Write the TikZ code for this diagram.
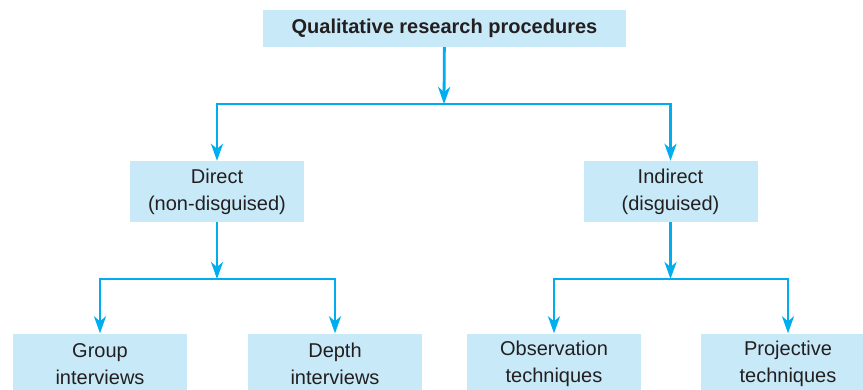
\documentclass[tikz,border=0pt]{standalone}
\usepackage{fontspec}
\setmainfont{Liberation Sans}
\usetikzlibrary{arrows.meta}

\definecolor{boxblue}{HTML}{C8E9F8}
\definecolor{linkblue}{HTML}{00AEEF}
\definecolor{inkgray}{HTML}{231F20}

\begin{document}
\begin{tikzpicture}[x=1pt, y=1pt,
        box/.style={fill=boxblue, inner sep=0pt, align=center, text=inkgray,
            minimum width=174pt, minimum height=61pt,
            font=\fontsize{20}{27}\selectfont},
        link/.style={draw=linkblue, line width=2.8pt,
            -{Stealth[length=17pt, width=12pt, inset=5pt]}}]
        \useasboundingbox (0,0) rectangle (863,389);

        % Top level
        \node[box, minimum width=363pt, minimum height=37pt] (qual) at (444.5,360.5)
            {\textbf{Qualitative research procedures}};

        % Second level
        \node[box] (direct) at (217,197.5) {Direct\\(non-disguised)};
        \node[box] (indirect) at (670.5,197.5) {Indirect\\(disguised)};

        % Bottom level (boxes run off the lower edge)
        \node[box] (group) at (100,25) {Group\\interviews};
        \node[box] (depth) at (335,25) {Depth\\interviews};
        \node[box] (observ) at (554,25) {Observation\\techniques};
        \node[box] (project) at (788,25) {Projective\\techniques};

        % Branch points
        \coordinate (split1) at (444,285);
        \coordinate (split2) at (217,110);
        \coordinate (split3) at (670.5,110);

        % Connectors
        \draw[link] (qual) -- (split1);
        \draw[link] (split1) -| (direct);
        \draw[link] (split1) -| (indirect);

        \draw[link] (direct) -- (split2);
        \draw[link] (split2) -| (group);
        \draw[link] (split2) -| (depth);

        \draw[link] (indirect) -- (split3);
        \draw[link] (split3) -| (observ);
        \draw[link] (split3) -| (project);
\end{tikzpicture}
\end{document}
